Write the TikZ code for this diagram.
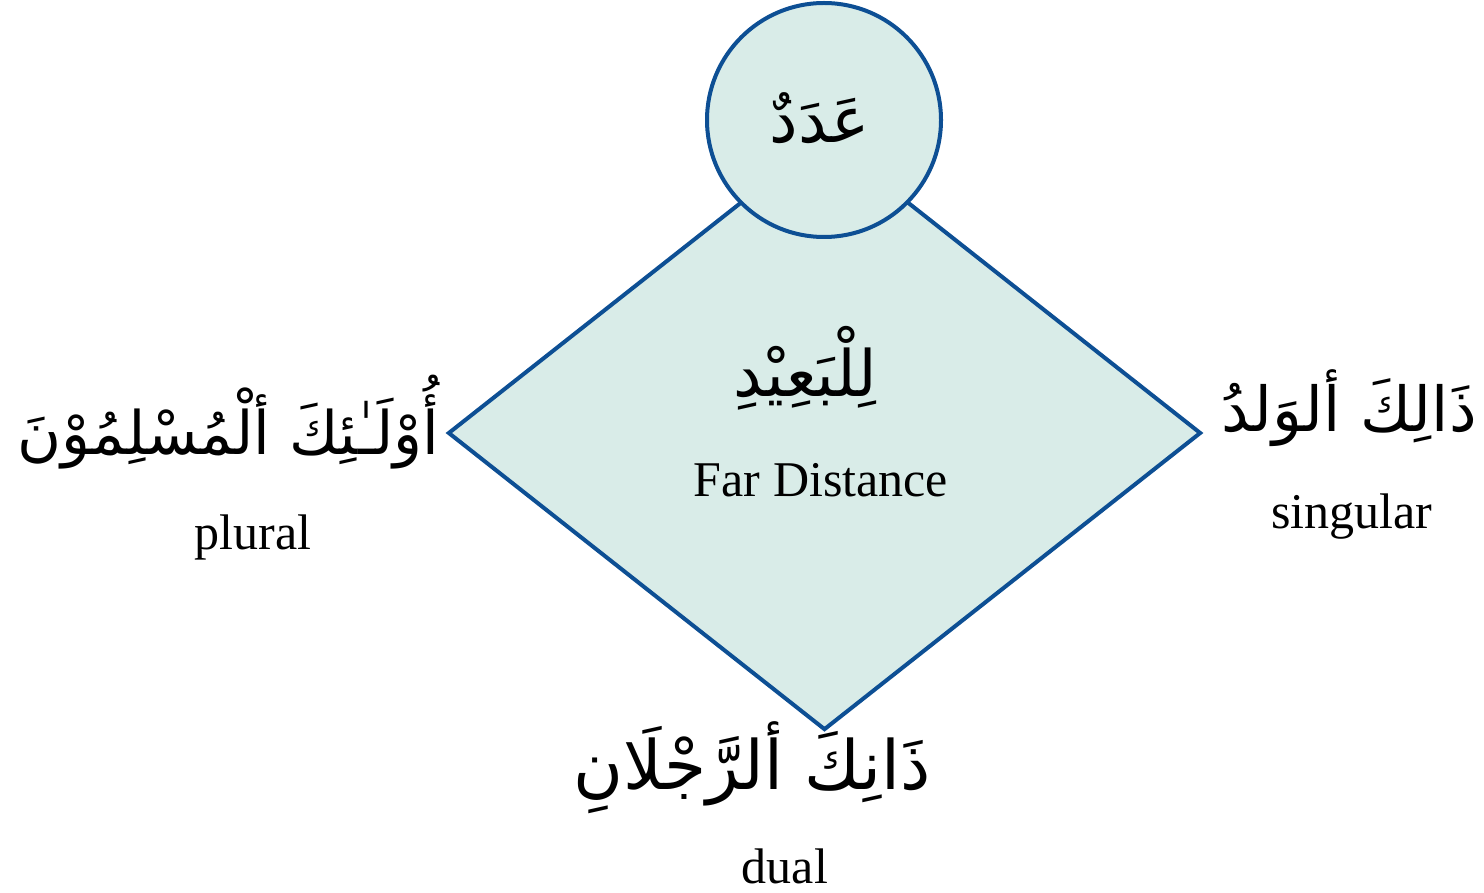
\documentclass[tikz,border=0pt]{standalone}
\usepackage{fontspec}
\setmainfont{Liberation Serif}
\newfontfamily\arabicfont[Script=Arabic]{DejaVu Sans}
\TeXXeTstate=1
\usepackage{tikz}
\usetikzlibrary{shapes.geometric,positioning}
\definecolor{shapefill}{HTML}{D9ECE8}
\definecolor{shapeline}{HTML}{0D4F94}

\begin{document}
\begin{tikzpicture}[x=0.5pt, y=-0.5pt,
  shapestyle/.style={draw=shapeline, fill=shapefill, line width=2pt, inner sep=0pt},
  arab/.style={font={\arabicfont\fontsize{#1}{38}\selectfont}, inner sep=0pt},
  arab/.default=32,
  eng/.style={font={\fontsize{25}{30}\selectfont}, inner sep=0pt}]
\useasboundingbox (0,0) rectangle (1484,893);
% shapes
\node[shapestyle, diamond, minimum width=376.5pt, minimum height=297pt] (dist) at (824.5,433) {};
\node[shapestyle, circle, minimum size=117pt] (number) at (824,120) {};
% center texts
\node[arab] (adad) at (820,118) {\beginR عَدَدٌ\endR};
\node[arab] (baid) at (805,368) {\beginR لِلْبَعِيْدِ\endR};
\node[eng] (far) at (821,480) {Far Distance};
% corner texts
\node[arab=30, anchor=east] (plar) at (440,422) {\beginR أُوْلَـٰئِكَ ألْمُسْلِمُوْنَ\endR};
\node[eng] (plural) at (253,537) {plural};
\node[arab=31, anchor=east] (sgar) at (1477,408) {\beginR ذَالِكَ ألوَلدُ\endR};
\node[eng] (singular) at (1352,517) {singular};
\node[arab=34] (duar) at (752,768) {\beginR ذَانِكَ ألرَّجْلَانِ\endR};
\node[eng] (dual) at (785,866) {dual};
\end{tikzpicture}
\end{document}
